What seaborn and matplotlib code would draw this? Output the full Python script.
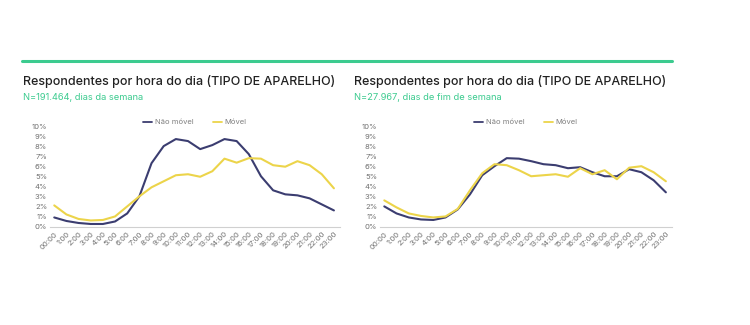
import matplotlib
matplotlib.use("Agg")
import matplotlib.pyplot as plt
import seaborn as sns
import pandas as pd
from matplotlib.lines import Line2D
from matplotlib.ticker import FuncFormatter

hours = [f"{h}:00" if h > 0 else "00:00" for h in range(24)]

left_nao_movel = [0.9, 0.55, 0.35, 0.25, 0.25, 0.5, 1.3, 3.0, 6.3, 8.0, 8.7, 8.5,
                  7.7, 8.1, 8.7, 8.5, 7.2, 5.0, 3.6, 3.2, 3.1, 2.8, 2.2, 1.6]
left_movel = [2.1, 1.2, 0.75, 0.6, 0.65, 1.0, 2.0, 3.0, 3.9, 4.5, 5.1, 5.2,
              4.95, 5.5, 6.75, 6.35, 6.8, 6.75, 6.1, 5.95, 6.5, 6.1, 5.2, 3.8]
right_nao_movel = [2.0, 1.3, 0.9, 0.7, 0.65, 0.9, 1.7, 3.2, 5.1, 6.0, 6.8, 6.75,
                   6.5, 6.2, 6.1, 5.8, 5.9, 5.4, 5.0, 5.0, 5.7, 5.4, 4.6, 3.4]
right_movel = [2.6, 1.9, 1.3, 1.05, 0.9, 1.0, 1.75, 3.6, 5.3, 6.2, 6.1, 5.6,
               5.0, 5.1, 5.2, 4.95, 5.8, 5.2, 5.6, 4.7, 5.85, 6.0, 5.4, 4.5]

series_names = ["Não móvel", "Móvel"]
titles = ["Respondentes por hora do dia (TIPO DE APARELHO)"] * 2
subtitles = ["N=191.464, dias da semana", "N=27.967, dias de fim de semana"]

NAVY = "#3b3d70"
YELLOW = "#ecd44a"
GREEN = "#3ccb8f"

sns.set_theme(style="white")
plt.rcParams['font.family'] = ['Inter', 'DejaVu Sans']

fig = plt.figure(figsize=(7.5, 3.25), dpi=100)

def make_df(a, b):
    return pd.DataFrame({
        "hora": list(range(24)) * 2,
        "valor": a + b,
        "tipo": [series_names[0]] * 24 + [series_names[1]] * 24,
    })

# top green rule
fig.add_artist(Line2D([22/750, 672/750], [1-61/325, 1-61/325], color=GREEN, lw=2.2))

axes_specs = [
    (50/750, 290/750, make_df(left_nao_movel, left_movel), 23/750),
    (380/750, 292/750, make_df(right_nao_movel, right_movel), 354/750),
]

for i, (x0, w, df, tx) in enumerate(axes_specs):
    ax = fig.add_axes([x0, 1-226.5/325, w, 100.5/325])
    sns.lineplot(data=df, x="hora", y="valor", hue="tipo",
                 palette={series_names[0]: NAVY, series_names[1]: YELLOW},
                 linewidth=1.5, ax=ax, legend=False)
    ax.set_xlim(-0.35, 23.5)
    ax.set_ylim(0, 10)
    ax.set_yticks(range(0, 11))
    ax.yaxis.set_major_formatter(FuncFormatter(lambda v, p: f"{int(v)}%"))
    ax.set_xticks(range(24))
    ax.set_xticklabels(hours, rotation=45, ha="right", rotation_mode="anchor")
    ax.tick_params(axis="both", labelsize=5.5, colors="#707070", length=0, pad=2)
    ax.tick_params(axis="x", pad=3)
    ax.set_xlabel("")
    ax.set_ylabel("")
    for s in ["top", "right", "left"]:
        ax.spines[s].set_visible(False)
    ax.spines["bottom"].set_color("#d0d0d0")
    ax.spines["bottom"].set_linewidth(0.8)
    handles = [Line2D([], [], color=NAVY, lw=1.3), Line2D([], [], color=YELLOW, lw=1.3)]
    ax.legend(handles, series_names, loc="lower center", bbox_to_anchor=(0.5, 0.97),
              ncol=2, frameon=False, fontsize=5.5, labelcolor="#808080",
              handlelength=1.2, handletextpad=0.3, columnspacing=2.6, borderpad=0)
    fig.text(tx, 1-82/325, titles[i], fontsize=9, color="#222222",
             fontweight="medium", va="center", ha="left")
    fig.text(tx, 1-98/325, subtitles[i], fontsize=6.7, color=GREEN,
             va="center", ha="left")

fig.savefig("out.png", dpi=100, facecolor="white")
